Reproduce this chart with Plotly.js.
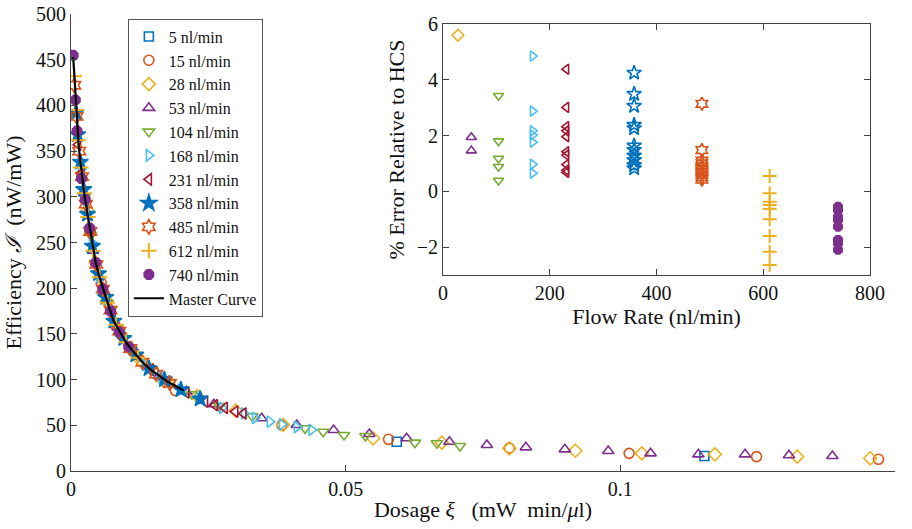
<!DOCTYPE html>
<html>
<head>
<meta charset="utf-8">
<script src="https://cdn.plot.ly/plotly-3.0.1.min.js"></script>
<style>html,body{margin:0;padding:0;background:#fff;}#chart{width:912px;height:529px;}</style>
</head>
<body>
<div id="chart"></div>
<script>
// ---------- Data ----------
const seriesNames = ['5 nl/min','15 nl/min','28 nl/min','53 nl/min','104 nl/min','168 nl/min','231 nl/min','358 nl/min','485 nl/min','612 nl/min','740 nl/min'];
const flowRates = [5, 15, 28, 53, 104, 168, 231, 358, 485, 612, 740];

// Main plot: dosage (mW min/µl) and efficiency (nW/mW)
const dose5   = [0.0593, 0.1153];
const eff5    = [32, 16.4];
const dose15  = [0.0035, 0.0055, 0.008, 0.011, 0.015, 0.019, 0.0384, 0.0578, 0.0798, 0.1016, 0.1248, 0.147];
const eff15   = [262, 206, 160, 133, 110, 88, 50.3, 34.7, 25.0, 19.3, 15.7, 12.8];
const dose28  = [0.003, 0.0045, 0.0065, 0.009, 0.0125, 0.017, 0.023, 0.030, 0.0386, 0.055, 0.0675, 0.0798, 0.0918, 0.1039, 0.1172, 0.1322, 0.1455];
const eff28   = [285, 228, 186, 150, 122, 98, 82, 66, 50.5, 35.8, 31.0, 24.8, 22.2, 19.3, 18.2, 15.7, 13.9];
const dose53  = [0.004, 0.006, 0.0085, 0.012, 0.016, 0.021, 0.026, 0.0347, 0.0411, 0.0478, 0.0543, 0.0611, 0.0689, 0.0757, 0.0828, 0.0899, 0.0978, 0.1055, 0.1142, 0.1227, 0.1307, 0.1386];
const eff53   = [241, 196, 157, 126, 104, 87, 73, 57.7, 50.3, 44.9, 40.5, 35.8, 32.0, 28.4, 25.9, 23.7, 21.9, 19.3, 18.2, 18.2, 17.2, 16.4];
const dose104 = [0.0025, 0.0036, 0.005, 0.0066, 0.0085, 0.011, 0.014, 0.018, 0.022, 0.027, 0.033, 0.0426, 0.0459, 0.0497, 0.0536, 0.0626, 0.0666, 0.0708];
const eff104  = [300, 258, 216, 184, 157, 133, 114, 97, 84, 71, 60, 46.7, 43.0, 39.4, 38.3, 31.0, 30.3, 27.4];
const dose168 = [0.0018, 0.0027, 0.0038, 0.0052, 0.0068, 0.0088, 0.011, 0.0135, 0.0165, 0.020, 0.0235, 0.0275, 0.0315, 0.0335, 0.0362, 0.0384, 0.0411, 0.0438];
const eff168  = [330, 296, 250, 212, 180, 152, 133, 116, 102, 89, 79, 69, 63, 58, 54, 51, 48, 45];
const dose231 = [0.0013, 0.0019, 0.0026, 0.0035, 0.0046, 0.006, 0.0076, 0.0095, 0.0118, 0.0145, 0.0175, 0.021, 0.0244, 0.0262, 0.028, 0.0299, 0.0314];
const eff231  = [357, 326, 296, 262, 226, 196, 166, 145, 127, 111, 98, 86, 76, 72, 69, 65, 63];
const dose358 = [0.0009, 0.0012, 0.0017, 0.0023, 0.003, 0.0039, 0.005, 0.0063, 0.0078, 0.0096, 0.0118, 0.0142, 0.017, 0.020, 0.0235];
const eff358  = [392, 368, 338, 308, 281, 246, 216, 190, 164, 145, 127, 112, 100, 89, 79];
const dose485 = [0.0006, 0.001, 0.0015, 0.002, 0.0027, 0.0035, 0.0046, 0.0058, 0.0072, 0.0088, 0.0108, 0.013, 0.0155, 0.018];
const eff485  = [422, 388, 350, 322, 292, 262, 226, 199, 176, 153, 134, 119, 106, 96];
const dose612 = [0.0006, 0.0009, 0.0013, 0.0018, 0.0024, 0.0031, 0.004, 0.0052, 0.0066, 0.0082, 0.010, 0.0122];
const eff612  = [432, 395, 362, 332, 304, 278, 241, 212, 184, 160, 141, 124];
const dose740 = [0.0004, 0.0008, 0.0011, 0.0019, 0.0026, 0.0034, 0.0045, 0.0058, 0.0072, 0.0088, 0.0105];
const eff740  = [455, 406, 372, 320, 297, 266, 228, 199, 175, 152, 136];

// Master curve
const masterDose = [0.0004, 0.0006, 0.0008, 0.001, 0.0012, 0.0014, 0.0016, 0.0019, 0.0022, 0.0025, 0.0029, 0.0033, 0.0037, 0.0041, 0.0045, 0.005, 0.0055, 0.006, 0.0065, 0.007, 0.0077, 0.0085, 0.0093, 0.0101, 0.011, 0.012, 0.0132, 0.0145, 0.016, 0.0175, 0.019, 0.0205];
const masterEff  = [453, 432, 410, 390, 370, 356, 344, 328, 312, 300, 285, 270, 253, 238, 228, 216, 206, 196, 186, 178, 165, 157, 148, 140, 133, 126, 118, 111, 104, 98, 93, 88];

// Inset: % error relative to HCS per flow rate
const err28  = [5.6];
const err53  = [1.94, 1.46];
const err104 = [3.43, 1.80, 1.18, 0.88, 0.39];
const err168 = [4.85, 2.88, 2.17, 2.02, 1.76, 0.97, 0.65];
const err231 = [4.38, 3.01, 2.32, 2.17, 1.96, 1.42, 1.30, 0.96, 0.76, 0.68];
const err358 = [4.25, 3.49, 3.06, 2.38, 2.26, 1.64, 1.48, 1.28, 1.12, 0.94, 0.82];
const err485 = [3.14, 1.48, 1.1, 1.0, 0.9, 0.8, 0.7, 0.6, 0.5, 0.42];
const err612 = [0.55, -0.07, -0.37, -0.49, -0.63, -1.0, -1.6, -2.17, -2.64];
const err740 = [-0.55, -0.67, -0.91, -1.03, -1.27, -1.74, -1.86, -2.1];

const xTickVals = [0, 0.05, 0.1, 0.15];
const xTickText = ['0', '0.05', '0.1', '0.15'];
const insetYTicks = [-2, 0, 2, 4, 6];
const insetYText = ['\u22122', '0', '2', '4', '6'];

// ---------- Styles ----------
const colors = ['#0072BD','#D95319','#EDB120','#7E2F8E','#77AC30','#4DBEEE','#A2142F','#0072BD','#D95319','#EDB120','#7E2F8E'];
const symbols = ['square-open','circle-open','diamond-open','triangle-up-open','triangle-down-open','triangle-right-open','triangle-left-open','star','hexagram-open','cross-thin-open','octagon'];
const sizes = [9, 10, 10, 10, 10, 10, 10, 12, 11, 11, 10];

const mainX = [dose5, dose15, dose28, dose53, dose104, dose168, dose231, dose358, dose485, dose612, dose740];
const mainY = [eff5, eff15, eff28, eff53, eff104, eff168, eff231, eff358, eff485, eff612, eff740];
const insetErr = [null, null, err28, err53, err104, err168, err231, err358, err485, err612, err740];

const FONT = 'Liberation Serif, Times New Roman, serif';
const traces = [];
for (let i = 0; i < seriesNames.length; i++) {
  traces.push({
    x: mainX[i], y: mainY[i], type: 'scatter', mode: 'markers', name: seriesNames[i],
    xaxis: 'x', yaxis: 'y',
    marker: {symbol: symbols[i], size: sizes[i], color: colors[i], line: {color: colors[i], width: (i === 9 ? 2 : 1.6)}}
  });
}
traces.push({
  x: masterDose, y: masterEff, type: 'scatter', mode: 'lines', name: 'Master Curve',
  xaxis: 'x', yaxis: 'y', line: {color: '#000', width: 2.2}
});
for (let i = 0; i < seriesNames.length; i++) {
  if (!insetErr[i]) continue;
  traces.push({
    x: insetErr[i].map(() => flowRates[i]), y: insetErr[i], type: 'scatter', mode: 'markers',
    xaxis: 'x2', yaxis: 'y2', showlegend: false, name: seriesNames[i],
    marker: {symbol: (i === 7 ? 'star-open' : symbols[i]), size: sizes[i] - 1, color: colors[i], line: {color: colors[i], width: (i === 9 ? 2 : 1.6)}}
  });
}

const axisCommon = {
  showline: true, linecolor: '#404040', linewidth: 1, ticks: 'inside', ticklen: 6, tickcolor: '#404040',
  showgrid: false, zeroline: false, tickfont: {family: FONT, size: 20, color: '#111'}
};

const layout = {
  width: 912, height: 529,
  margin: {l: 71, r: 17, t: 14, b: 58},
  paper_bgcolor: '#fff', plot_bgcolor: '#fff',
  font: {family: FONT, color: '#111'},
  showlegend: true,
  legend: {
    x: 0.069, y: 0.99, xanchor: 'left', yanchor: 'top',
    bgcolor: '#fff', bordercolor: '#555', borderwidth: 1,
    font: {family: FONT, size: 16, color: '#111'}, tracegroupgap: 0, itemwidth: 30
  },
  xaxis: Object.assign({}, axisCommon, {
    domain: [0, 1], range: [0, 0.15], tickvals: xTickVals, ticktext: xTickText, anchor: 'y',
    title: {text: 'Dosage <i>ξ</i>   (mW  min/<i>μ</i>l)', font: {family: FONT, size: 22, color: '#111'}, standoff: 2}
  }),
  yaxis: Object.assign({}, axisCommon, {
    domain: [0, 1], range: [0, 500], dtick: 50, anchor: 'x',
    title: {text: 'Efficiency <i>ℐ</i>  (nW/mW)', font: {family: FONT, size: 22, color: '#111'}, standoff: 8}
  }),
  xaxis2: Object.assign({}, axisCommon, {
    domain: [0.4515, 0.9697], range: [0, 800], dtick: 200, anchor: 'y2', mirror: 'ticks',
    title: {text: 'Flow Rate (nl/min)', font: {family: FONT, size: 22, color: '#111'}, standoff: 4}
  }),
  yaxis2: Object.assign({}, axisCommon, {
    domain: [0.4289, 0.978], range: [-3, 6], tickvals: insetYTicks, ticktext: insetYText, anchor: 'x2', mirror: 'ticks',
    title: {text: '% Error Relative to HCS', font: {family: FONT, size: 22, color: '#111'}, standoff: 6}
  })
};

Plotly.newPlot('chart', traces, layout, {displayModeBar: false, staticPlot: true});
</script>
</body>
</html>
